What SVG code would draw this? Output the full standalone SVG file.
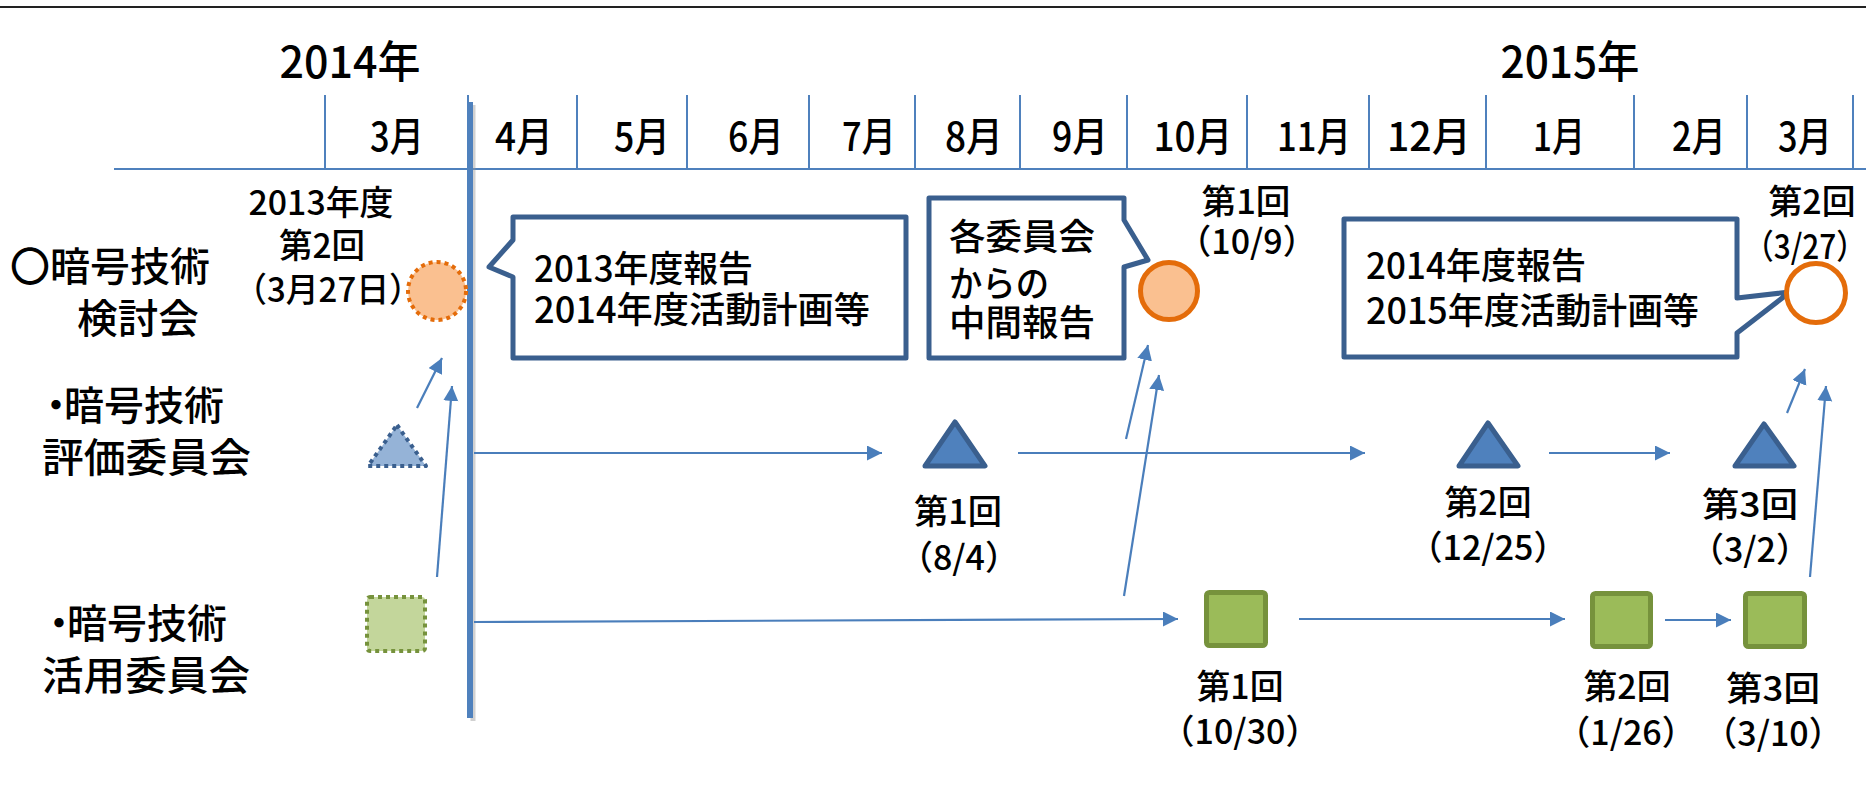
<svg xmlns="http://www.w3.org/2000/svg" width="1866" height="810" viewBox="0 0 1866 810">
<defs>
<style>
text{font-family:"Noto Sans CJK JP","Noto Sans CJK SC",sans-serif;fill:#000;font-weight:500}
.yr{font-size:44px;text-anchor:middle}
.mo{font-size:40px;text-anchor:middle}
.row{font-size:40px}
.lb{font-size:34px;text-anchor:middle}
.co{font-size:36px}
.grid{stroke:#4F81BD;stroke-width:2;fill:none}
.arr{stroke:#4A7EBB;stroke-width:2.2;fill:none;marker-end:url(#ah)}
.callout{fill:#fff;stroke:#3A5F8E;stroke-width:5;stroke-linejoin:round}
.tri{fill:#4F81BD;stroke:#3A5F8E;stroke-width:5;stroke-linejoin:round}
.sq{fill:#9BBB59;stroke:#76923C;stroke-width:5}
.circ{fill:#FAC090;stroke:#E46C0A;stroke-width:5}
</style>
<marker id="ah" markerUnits="userSpaceOnUse" markerWidth="16" markerHeight="16" refX="15" refY="7.5" orient="auto">
<path d="M0,0 L15,7.5 L0,15 Z" fill="#4A7EBB"/>
</marker>
</defs>
<rect width="1866" height="810" fill="#fff"/>
<line x1="0" y1="7" x2="1866" y2="7" stroke="#222" stroke-width="2"/>

<g id="header">
<text class="yr" x="350" y="78" textLength="141" lengthAdjust="spacingAndGlyphs">2014年</text>
<text class="yr" x="1570" y="78" textLength="139" lengthAdjust="spacingAndGlyphs">2015年</text>
<line class="grid" x1="114" y1="169" x2="1866" y2="169"/>
<g class="grid">
<line x1="325" y1="95" x2="325" y2="169"/>
<line x1="577" y1="95" x2="577" y2="169"/>
<line x1="687" y1="95" x2="687" y2="169"/>
<line x1="809" y1="95" x2="809" y2="169"/>
<line x1="915" y1="95" x2="915" y2="169"/>
<line x1="1020" y1="95" x2="1020" y2="169"/>
<line x1="1127" y1="95" x2="1127" y2="169"/>
<line x1="1247" y1="95" x2="1247" y2="169"/>
<line x1="1369" y1="95" x2="1369" y2="169"/>
<line x1="1486" y1="95" x2="1486" y2="169"/>
<line x1="1634" y1="95" x2="1634" y2="169"/>
<line x1="1747" y1="95" x2="1747" y2="169"/>
<line x1="1853" y1="95" x2="1853" y2="169"/>
<line x1="468" y1="95" x2="468" y2="169"/>
</g>
<text class="mo" x="397" y="151" textLength="54" lengthAdjust="spacingAndGlyphs">3月</text>
<text class="mo" x="524" y="151" textLength="58" lengthAdjust="spacingAndGlyphs">4月</text>
<text class="mo" x="642" y="151" textLength="56" lengthAdjust="spacingAndGlyphs">5月</text>
<text class="mo" x="756" y="151" textLength="56" lengthAdjust="spacingAndGlyphs">6月</text>
<text class="mo" x="869" y="151" textLength="54" lengthAdjust="spacingAndGlyphs">7月</text>
<text class="mo" x="974" y="151" textLength="58" lengthAdjust="spacingAndGlyphs">8月</text>
<text class="mo" x="1080" y="151" textLength="56" lengthAdjust="spacingAndGlyphs">9月</text>
<text class="mo" x="1193" y="151" textLength="79" lengthAdjust="spacingAndGlyphs">10月</text>
<text class="mo" x="1314" y="151" textLength="74" lengthAdjust="spacingAndGlyphs">11月</text>
<text class="mo" x="1429" y="151" textLength="84" lengthAdjust="spacingAndGlyphs">12月</text>
<text class="mo" x="1559" y="151" textLength="52" lengthAdjust="spacingAndGlyphs">1月</text>
<text class="mo" x="1699" y="151" textLength="54" lengthAdjust="spacingAndGlyphs">2月</text>
<text class="mo" x="1805" y="151" textLength="54" lengthAdjust="spacingAndGlyphs">3月</text>
</g>

<g id="today-line">
<line x1="473" y1="105" x2="473" y2="721" stroke="#999" stroke-opacity="0.45" stroke-width="5"/>
<line x1="470" y1="102" x2="470" y2="718" stroke="#4F81BD" stroke-width="6"/>
</g>

<g id="row-labels">
<text class="row" x="10" y="281" font-size="42">〇暗号技術</text>
<text class="row" x="77" y="333" textLength="122" lengthAdjust="spacingAndGlyphs">検討会</text>
<text class="row" x="36" y="420">・<tspan dx="-12">暗号技術</tspan></text>
<text class="row" x="42" y="472" textLength="209" lengthAdjust="spacingAndGlyphs">評価委員会</text>
<text class="row" x="39" y="638">・<tspan dx="-12">暗号技術</tspan></text>
<text class="row" x="42" y="690" textLength="208" lengthAdjust="spacingAndGlyphs">活用委員会</text>
</g>

<g id="connectors">
<line class="arr" x1="474" y1="453" x2="882" y2="453"/>
<line class="arr" x1="1018" y1="453" x2="1365" y2="453"/>
<line class="arr" x1="1549" y1="453" x2="1670" y2="453"/>
<line class="arr" x1="474" y1="622" x2="1178" y2="619"/>
<line class="arr" x1="1299" y1="619" x2="1565" y2="619"/>
<line class="arr" x1="1665" y1="620" x2="1731" y2="620"/>
<line class="arr" x1="417" y1="408" x2="442" y2="358"/>
<line class="arr" x1="437" y1="577" x2="452" y2="386"/>
<line class="arr" x1="1126" y1="439" x2="1148" y2="345"/>
<line class="arr" x1="1124" y1="596" x2="1159" y2="375"/>
<line class="arr" x1="1787" y1="413" x2="1805" y2="369"/>
<line class="arr" x1="1810" y1="577" x2="1826" y2="386"/>
</g>

<g id="kentou-0">
<circle cx="437" cy="291" r="29" fill="#FAC090" stroke="#E46C0A" stroke-width="4" stroke-dasharray="4 4"/>
<text class="lb" x="321" y="215" textLength="145" lengthAdjust="spacingAndGlyphs">2013年度</text>
<text class="lb" x="322" y="258" textLength="86" lengthAdjust="spacingAndGlyphs">第2回</text>
<text class="lb" x="328" y="302" textLength="188" lengthAdjust="spacingAndGlyphs">（3月27日）</text>
</g>

<g id="callout-1">
<path class="callout" d="M513,217 H906 V358 H513 V277 L489,267 L513,240 Z"/>
<text class="co" x="534" y="282" textLength="219" lengthAdjust="spacingAndGlyphs">2013年度報告</text>
<text class="co" x="534" y="323" textLength="336" lengthAdjust="spacingAndGlyphs">2014年度活動計画等</text>
</g>

<g id="callout-2">
<path class="callout" d="M929,198 H1124 V220 L1148,260 L1124,267 V358 H929 Z"/>
<text class="co" x="949" y="250" textLength="146" lengthAdjust="spacingAndGlyphs">各委員会</text>
<text class="co" x="949" y="297" textLength="100" lengthAdjust="spacingAndGlyphs">からの</text>
<text class="co" x="949" y="336" textLength="146" lengthAdjust="spacingAndGlyphs">中間報告</text>
</g>

<g id="kentou-1">
<circle class="circ" cx="1169" cy="291" r="28.5"/>
<text class="lb" x="1246" y="214" textLength="89" lengthAdjust="spacingAndGlyphs">第1回</text>
<text class="lb" x="1247" y="254">（10/9）</text>
</g>

<g id="callout-3">
<path class="callout" d="M1344,219 H1737 V298 L1790,292 L1737,333 V357 H1344 Z"/>
<text class="co" x="1366" y="279" textLength="220" lengthAdjust="spacingAndGlyphs">2014年度報告</text>
<text class="co" x="1366" y="324" textLength="333" lengthAdjust="spacingAndGlyphs">2015年度活動計画等</text>
</g>

<g id="kentou-2">
<circle cx="1816" cy="293" r="29.5" fill="#fff" stroke="#E46C0A" stroke-width="5"/>
<text class="lb" x="1812" y="214" textLength="87" lengthAdjust="spacingAndGlyphs">第2回</text>
<text class="lb" x="1805" y="259" textLength="122" lengthAdjust="spacingAndGlyphs">（3/27）</text>
</g>

<g id="hyouka-0">
<path d="M397,425 L426,466 L368,466 Z" fill="#95B3D7" stroke="#3A5F8E" stroke-width="4" stroke-dasharray="4 4" stroke-linejoin="round"/>
</g>
<g id="hyouka-1">
<path class="tri" d="M955,422 L985,466 L925,466 Z"/>
<text class="lb" x="958" y="524" textLength="88" lengthAdjust="spacingAndGlyphs">第1回</text>
<text class="lb" x="959" y="570">（8/4）</text>
</g>
<g id="hyouka-2">
<path class="tri" d="M1488,423 L1518,466 L1459,466 Z"/>
<text class="lb" x="1488" y="515" textLength="87" lengthAdjust="spacingAndGlyphs">第2回</text>
<text class="lb" x="1488" y="560">（12/25）</text>
</g>
<g id="hyouka-3">
<path class="tri" d="M1764,424 L1794,466 L1735,466 Z"/>
<text class="lb" x="1750" y="517" textLength="96" lengthAdjust="spacingAndGlyphs">第3回</text>
<text class="lb" x="1750" y="562">（3/2）</text>
</g>

<g id="katsuyou-0">
<rect x="367" y="597" width="58" height="54" rx="3" fill="#C3D69B" stroke="#76923C" stroke-width="4" stroke-dasharray="4 4"/>
</g>
<g id="katsuyou-1">
<rect class="sq" x="1206.5" y="592.5" width="59" height="53" rx="3"/>
<text class="lb" x="1240" y="699" textLength="87" lengthAdjust="spacingAndGlyphs">第1回</text>
<text class="lb" x="1240" y="744">（10/30）</text>
</g>
<g id="katsuyou-2">
<rect class="sq" x="1592.5" y="593.5" width="58" height="53" rx="3"/>
<text class="lb" x="1627" y="699" textLength="87" lengthAdjust="spacingAndGlyphs">第2回</text>
<text class="lb" x="1626" y="745">（1/26）</text>
</g>
<g id="katsuyou-3">
<rect class="sq" x="1745.5" y="593.5" width="59" height="53" rx="3"/>
<text class="lb" x="1773" y="701" textLength="94" lengthAdjust="spacingAndGlyphs">第3回</text>
<text class="lb" x="1773" y="746">（3/10）</text>
</g>
</svg>
